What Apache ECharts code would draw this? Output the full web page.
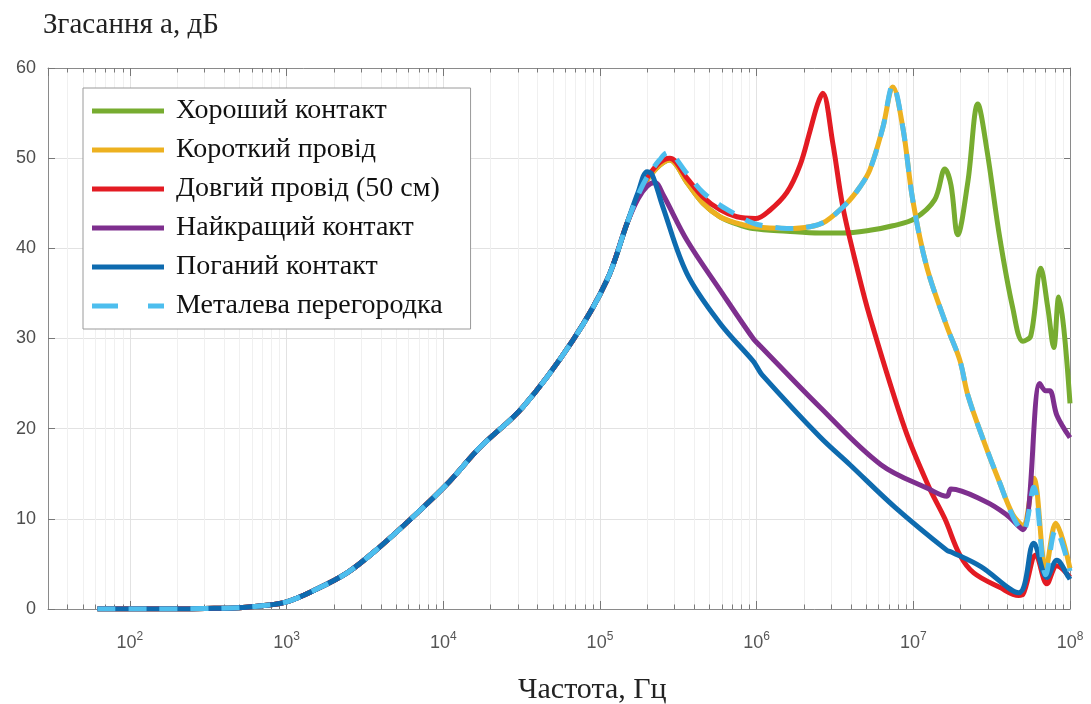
<!DOCTYPE html>
<html><head><meta charset="utf-8">
<script src="https://cdn.jsdelivr.net/npm/echarts@6/dist/echarts.min.js"></script>
<style>html,body{margin:0;padding:0;background:#fff}#c{width:1091px;height:704px}</style>
</head><body><div id="c"></div><script>
// ---- data (frequency in Hz, attenuation in dB) ----
const seriesNames = ['Хороший контакт', 'Короткий провід', 'Довгий провід (50 см)', 'Найкращий контакт', 'Поганий контакт', 'Металева перегородка'];
const seriesColors = ['#77AC30', '#EDB120', '#E31B23', '#7E2F8E', '#0E6BAF', '#4DBEEE'];
const yTicks = [0, 10, 20, 30, 40, 50, 60];

// common rising part, shared by all curves
const riseFreq = [62, 100, 200, 300, 500, 700, 1000, 1470, 2430, 3940, 6400, 10500, 17100, 32200, 67100, 111000, 149000];
const riseVals = [0, 0, 0, 0.05, 0.15, 0.35, 0.8, 2.0, 4.0, 6.9, 10.2, 13.8, 17.9, 22.4, 29.8, 36.5, 42.8];

const goodFreq = [175000, 200000, 240000, 279000, 359000, 454000, 583000, 748000, 947000, 1560000, 2530000, 3550000, 5280000, 7400000, 10200000, 13700000, 15900000, 17400000, 19200000, 22300000, 25800000, 29500000, 35600000, 43100000, 50000000, 56200000, 65100000, 72200000, 78800000, 84800000, 91300000, 100000000];
const goodVals = [45.8, 47.6, 49.2, 49.8, 47.3, 45.0, 43.5, 42.7, 42.2, 41.9, 41.7, 41.7, 42.0, 42.5, 43.3, 45.4, 48.8, 47.0, 41.5, 47.4, 56.0, 50.9, 41.2, 33.4, 29.7, 30.3, 37.8, 33.4, 29.0, 34.6, 31.1, 22.8];

const shortFreq = [175000, 200000, 240000, 279000, 359000, 454000, 583000, 748000, 947000, 1560000, 2190000, 2760000, 3760000, 4560000, 5280000, 6390000, 7400000, 8570000, 9930000, 12200000, 16400000, 19800000, 22300000, 28200000, 35600000, 43100000, 50000000, 58700000, 70100000, 81100000, 100000000];
const shortVals = [45.8, 47.6, 49.2, 49.8, 47.3, 45.0, 43.5, 42.8, 42.4, 42.2, 42.4, 43.0, 45.0, 46.8, 48.7, 53.4, 57.9, 53.4, 45.3, 37.9, 31.3, 27.6, 23.7, 18.6, 14.0, 10.5, 9.3, 14.5, 4.5, 9.5, 4.5];

const longFreq = [175000, 200000, 240000, 279000, 359000, 454000, 583000, 748000, 980000, 1210000, 1560000, 1890000, 2190000, 2450000, 2640000, 3060000, 3550000, 4360000, 5280000, 8830000, 12600000, 15900000, 19800000, 24300000, 35600000, 47100000, 50000000, 60500000, 71200000, 82400000, 100000000];
const longVals = [45.8, 47.8, 49.5, 50.0, 47.8, 45.7, 44.3, 43.5, 43.3, 44.2, 46.2, 49.2, 53.0, 56.0, 57.2, 51.7, 44.6, 37.9, 32.4, 20.0, 13.5, 10.0, 6.0, 4.0, 2.4, 1.5, 1.6, 6.0, 2.8, 4.8, 3.5];

const bestFreq = [175000, 200000, 224000, 252000, 359000, 583000, 950000, 1050000, 2530000, 6210000, 12600000, 16400000, 17400000, 28200000, 39000000, 50000000, 64200000, 70100000, 74300000, 82400000, 100000000];
const bestVals = [45.5, 46.9, 47.3, 46.0, 40.9, 35.4, 30.0, 29.2, 22.4, 16.0, 13.3, 12.5, 13.3, 12.0, 10.5, 8.8, 25.0, 24.2, 24.2, 21.5, 19.0];

const badFreq = [175000, 200000, 215000, 252000, 359000, 583000, 950000, 1000000, 1080000, 2530000, 3940000, 7620000, 16400000, 17600000, 27000000, 47100000, 58700000, 71200000, 82400000, 98300000, 100000000];
const badVals = [46.2, 48.5, 48.2, 44.6, 37.2, 31.7, 27.5, 26.9, 26.0, 19.1, 16.0, 11.3, 6.5, 6.3, 4.7, 1.8, 7.3, 3.5, 5.4, 3.5, 3.3];

const metalFreq = [175000, 200000, 240000, 270000, 359000, 454000, 583000, 748000, 947000, 1210000, 1560000, 2190000, 2760000, 3760000, 4560000, 5280000, 6390000, 7400000, 8570000, 9930000, 12200000, 16400000, 19800000, 22300000, 28200000, 35600000, 43100000, 50000000, 58700000, 70100000, 81100000, 100000000];
const metalVals = [45.9, 47.9, 49.8, 50.6, 48.3, 46.2, 44.8, 43.7, 42.8, 42.4, 42.2, 42.4, 43.0, 45.0, 46.8, 48.7, 53.4, 58.1, 53.4, 45.3, 37.9, 31.3, 27.6, 23.7, 18.6, 14.0, 10.3, 8.6, 13.5, 3.8, 8.8, 4.2];

const minorMultipliers = [2, 3, 4, 5, 6, 7, 8, 9];
const decades = [10, 100, 1000, 10000, 100000, 1000000, 10000000];

// ---- build ----
function build(f, v) {
  const out = riseFreq.map((x, i) => [x, riseVals[i]]);
  f.forEach((x, i) => out.push([x, v[i]]));
  return out;
}
const tails = [[goodFreq, goodVals], [shortFreq, shortVals], [longFreq, longVals], [bestFreq, bestVals], [badFreq, badVals], [metalFreq, metalVals]];

const minorVals = [];
decades.forEach(d => minorMultipliers.forEach(m => { const v = d * m; if (v > 30 && v < 1e8) minorVals.push(v); }));

const markData = [];
minorVals.forEach(v => markData.push({ xAxis: v, lineStyle: { color: '#f0f0f0', width: 1, type: 'solid' } }));
minorVals.forEach(v => {
  markData.push([{ coord: [v, 0], lineStyle: { color: '#7a7a7a', width: 1, type: 'solid' } }, { coord: [v, 0.5] }]);
  markData.push([{ coord: [v, 60], lineStyle: { color: '#7a7a7a', width: 1, type: 'solid' } }, { coord: [v, 59.5] }]);
});

const series = seriesNames.map((name, i) => {
  const s = {
    name, type: 'line', data: build(tails[i][0], tails[i][1]),
    symbol: 'none', smooth: 0.35,
    lineStyle: { color: seriesColors[i], width: 5, type: i === 5 ? [18, 13] : 'solid' },
    itemStyle: { color: seriesColors[i] },
    z: 2 + i * 0.1
  };
  if (i === 0) {
    s.markLine = { silent: true, symbol: 'none', z: 1, animation: false, label: { show: false }, emphasis: { disabled: true }, data: markData };
  }
  return s;
});

const solidIcon = 'path://M0,0h72v5h-72z';
const dashIcon = 'path://M0,0h26v5h-26zM56,0h16v5h-16z';

const labelFmt = v => {
  const e = Math.log10(v); const r = Math.round(e);
  if (Math.abs(e - r) > 1e-6) return '';
  return '{b|10}{s|' + r + '}';
};

const chart = echarts.init(document.getElementById('c'), null, { renderer: 'canvas' });
chart.setOption({
  animation: false,
  backgroundColor: '#fff',
  title: [
    { text: 'Згасання а, дБ', left: 38, top: 6, textStyle: { fontFamily: 'Liberation Serif', fontSize: 29, fontWeight: 'normal', color: '#222' } },
    { text: 'Частота, Гц', left: 513, top: 670, textStyle: { fontFamily: 'Liberation Serif', fontSize: 30, fontWeight: 'normal', color: '#222' } }
  ],
  grid: { left: 48, right: 21, top: 68, bottom: 95, containLabel: false },
  legend: {
    data: seriesNames.map((n, i) => ({ name: n, icon: i === 5 ? dashIcon : solidIcon })),
    orient: 'vertical', left: 83, top: 88,
    itemWidth: 72, itemHeight: 5, itemGap: 9, selectedMode: false, symbolKeepAspect: false,
    padding: [8, 28, 8, 9],
    backgroundColor: '#fff', borderColor: '#9a9a9a', borderWidth: 1,
    textStyle: { fontFamily: 'Liberation Serif', fontSize: 28, lineHeight: 30, color: '#111', padding: [0, 0, 0, 7] }
  },
  xAxis: [{
    type: 'log', logBase: 10, min: 30, max: 1e8,
    axisLine: { show: true, onZero: false, lineStyle: { color: '#8a8a8a', width: 1 } },
    axisTick: { show: true, inside: true, length: 8, lineStyle: { color: '#777' } },
    axisLabel: { formatter: labelFmt, margin: 22, showMinLabel: false,
      rich: { b: { fontFamily: 'Liberation Sans', fontSize: 18, color: '#555' }, s: { fontFamily: 'Liberation Sans', fontSize: 12, color: '#555', padding: [0, 0, 12, 0] } } },
    splitLine: { show: true, lineStyle: { color: '#e2e2e2', width: 1 } }
  }, {
    type: 'log', logBase: 10, min: 30, max: 1e8, position: 'top',
    axisLine: { show: true, onZero: false, lineStyle: { color: '#8a8a8a', width: 1 } },
    axisTick: { show: true, inside: true, length: 8, lineStyle: { color: '#777' } },
    axisLabel: { show: false }, splitLine: { show: false }
  }],
  yAxis: [{
    type: 'value', min: 0, max: 60, interval: 10,
    axisLine: { show: true, onZero: false, lineStyle: { color: '#8a8a8a', width: 1 } },
    axisTick: { show: true, inside: true, length: 7, lineStyle: { color: '#777' } },
    axisLabel: { margin: 12, fontFamily: 'Liberation Sans', fontSize: 18, color: '#4d4d4d', formatter: v => (yTicks.indexOf(v) >= 0 ? String(v) : '') },
    splitLine: { show: true, lineStyle: { color: '#e2e2e2', width: 1 } }
  }, {
    type: 'value', min: 0, max: 60, interval: 10, position: 'right',
    axisLine: { show: true, onZero: false, lineStyle: { color: '#8a8a8a', width: 1 } },
    axisTick: { show: true, inside: true, length: 7, lineStyle: { color: '#777' } },
    axisLabel: { show: false }, splitLine: { show: false }
  }],
  series
});
</script></body></html>
